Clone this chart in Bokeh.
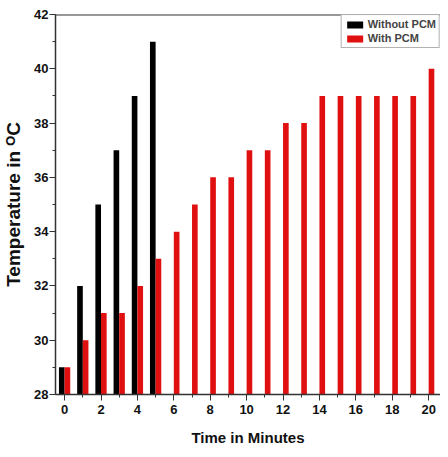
from bokeh.plotting import figure
from bokeh.models import ColumnDataSource, Legend, LegendItem, FixedTicker, Span
from bokeh.transform import dodge
from bokeh.embed import file_html
from bokeh.resources import INLINE

time_without = [0, 1, 2, 3, 4, 5]
temp_without = [29, 32, 35, 37, 39, 41]
time_with = list(range(0, 21))
temp_with = [29, 30, 31, 31, 32, 33, 34, 35, 36, 36, 37, 37, 38, 38, 39, 39, 39, 39, 39, 39, 40]
x_ticks = [0, 2, 4, 6, 8, 10, 12, 14, 16, 18, 20]
y_ticks = [28, 30, 32, 34, 36, 38, 40, 42]

src_a = ColumnDataSource(dict(t=time_without, v=temp_without))
src_b = ColumnDataSource(dict(t=time_with, v=temp_with))

p = figure(width=440, height=448, output_backend="svg", toolbar_location=None,
           x_range=(-0.5, 20.65), y_range=(28, 42),
           min_border_left=47, min_border_top=14, min_border_bottom=50, min_border_right=0)
p.outline_line_color = None
p.grid.visible = False
p.background_fill_color = "white"

bw = 0.31
ra = p.vbar(x=dodge("t", -bw / 2, range=p.x_range), top="v", bottom=28, width=bw,
            source=src_a, fill_color="black", line_color=None)
rb = p.vbar(x=dodge("t", bw / 2, range=p.x_range), top="v", bottom=28, width=bw,
            source=src_b, fill_color="#e01010", line_color=None)

font = "Liberation Sans"
for ax in (p.xaxis[0], p.yaxis[0]):
    ax.major_label_text_font = font
    ax.major_label_text_font_style = "bold"
    ax.major_label_text_font_size = "13px"
    ax.major_label_text_color = "#111111"
    ax.axis_label_text_font = font
    ax.axis_label_text_font_style = "bold"
    ax.axis_label_text_color = "#111111"
    ax.axis_line_color = "#333333"
    ax.axis_line_width = 1.5
    ax.major_tick_line_color = "#333333"
    ax.minor_tick_line_color = "#333333"
    ax.major_tick_out = 6
    ax.major_tick_in = 0
    ax.minor_tick_out = 3
    ax.minor_tick_in = 0

p.xaxis.ticker = FixedTicker(ticks=x_ticks, minor_ticks=list(range(0, 21)))
p.yaxis.ticker = FixedTicker(ticks=y_ticks, minor_ticks=list(range(28, 43)))
p.xaxis.axis_label = "Time in Minutes"
p.yaxis.axis_label = "Temperature in \u1d3cC"
p.xaxis.axis_label_text_font_size = "15px"
p.yaxis.axis_label_text_font_size = "19px"
p.xaxis.axis_label_standoff = 12
p.yaxis.axis_label_standoff = 7
p.xaxis.major_label_standoff = 4
p.yaxis.major_label_standoff = 1

p.add_layout(Span(location=42, dimension="width", line_color="#333333", line_width=2))

legend = Legend(items=[LegendItem(label="Without PCM", renderers=[ra]),
                       LegendItem(label="With PCM", renderers=[rb])],
                location="top_right", margin=0, padding=3, spacing=2,
                label_text_font=font, label_text_font_style="bold",
                label_text_font_size="11px", glyph_width=20, glyph_height=9,
                label_height=12, label_standoff=3,
                border_line_color="#666666", border_line_width=1)
p.add_layout(legend)

open("out.html", "w").write(file_html(p, INLINE))
